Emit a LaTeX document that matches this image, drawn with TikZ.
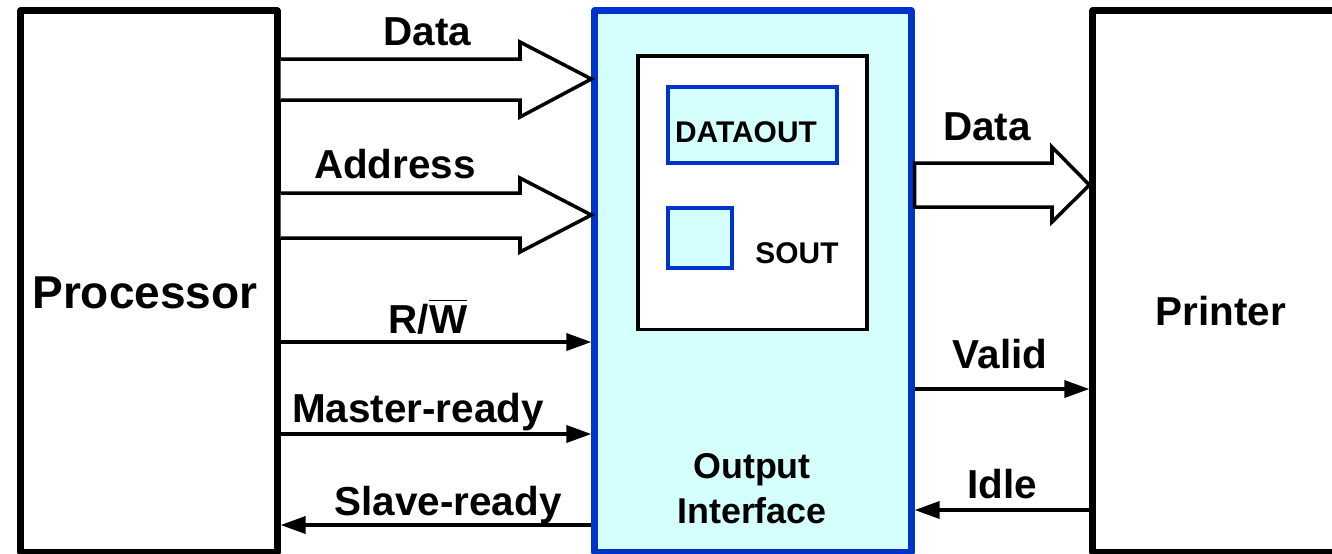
\documentclass[tikz,border=0pt]{standalone}
\usepackage{fontspec}
\setmainfont{Liberation Sans}
\usetikzlibrary{arrows.meta}
\definecolor{ifblue}{RGB}{0,51,204}
\definecolor{ifcyan}{RGB}{212,255,253}
\tikzset{
  unit/.style={draw, line width=2pt, line join=round, minimum height=5.41cm},
  reg/.style={draw=ifblue, fill=ifcyan, line width=0.9pt},
  bus/.style={draw, line width=1pt, fill=white},
  sig/.style={line width=1pt},
  lbl/.style={anchor=base, inner sep=0pt, font=\bfseries\fontsize{11.5}{12}\selectfont},
  small/.style={anchor=base, inner sep=0pt, font=\bfseries\fontsize{8.5}{9}\selectfont}
}
\begin{document}
\begin{tikzpicture}[>={Triangle[length=0.25cm,width=0.17cm]}, x=0.01cm, y=-0.01cm]
\useasboundingbox (0,0) rectangle (1332,553);
% blocks
\node  (proc) at (149,281.5) [unit, minimum width=2.56cm] {};
\node (iface) at (753,281.5) [unit, draw=ifblue, fill=ifcyan, minimum width=3.16cm] {};
\node   (prt) at (1221,281.5) [unit, minimum width=2.56cm] {};
\node (iobox) at (752.5,192.5) [draw, fill=white, line width=0.9pt, minimum width=2.29cm, minimum height=2.73cm] {};
\node  (dout) at (752.5,125) [reg, minimum width=1.69cm, minimum height=0.76cm] {};
\node  (sout) at (700,238) [reg, minimum width=0.64cm, minimum height=0.60cm] {};
% texts
\node  (procl) at (145,308) [lbl, font=\bfseries\fontsize{13.1}{14}\selectfont] {Processor};
\node   (prtl) at (1221,325) [lbl] {Printer};
\node   (ifl) at (752,489) [align=center, inner sep=0pt, font=\bfseries\fontsize{10.2}{12.8}\selectfont] {Output\\Interface};
\node  (doutl) at (746,142) [small] {DATAOUT};
\node  (soutl) at (797,263) [small] {SOUT};
\node  (datal) at (427.5,45) [lbl] {Data};
\node  (addrl) at (395,178) [lbl] {Address};
\node    (rwl) at (428,333) [lbl] {R/$\overline{\hbox{W}}$};
\node  (mrdyl) at (418,422) [lbl] {Master-ready};
\node  (srdyl) at (448,515) [lbl] {Slave-ready};
\node (datarl) at (987,140) [lbl] {Data};
\node (validl) at (1000,368) [lbl] {Valid};
\node  (idlel) at (1002,498) [lbl] {Idle};
% buses
\draw [bus] (proc.east |- 0,59) -- (520,59) -- (520,42) -- (iface.west |- 0,79)
  -- (520,117) -- (520,100) -- (proc.east |- 0,100);
\draw [bus] (proc.east |- 0,193) -- (520,193) -- (520,178) -- (iface.west |- 0,215)
  -- (520,252) -- (520,238) -- (proc.east |- 0,238);
\draw [bus] (iface.east |- 0,163) -- (1052,163) -- (1052,147) -- (prt.west |- 0,185)
  -- (1052,222) -- (1052,207) -- (iface.east |- 0,207) -- cycle;
% control lines
\draw [sig,->] (proc.east |- 0,342) -- (iface.west |- 0,342);
\draw [sig,->] (proc.east |- 0,434) -- (iface.west |- 0,434);
\draw [sig,<-] (proc.east |- 0,525) -- (iface.west |- 0,525);
\draw [sig,->] (iface.east |- 0,389) -- (prt.west |- 0,389);
\draw [sig,<-] (iface.east |- 0,510) -- (prt.west |- 0,510);
\end{tikzpicture}
\end{document}
